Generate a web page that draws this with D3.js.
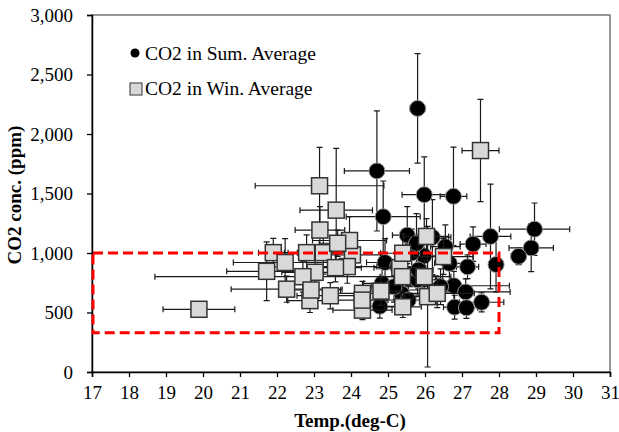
<!DOCTYPE html>
<html>
<head>
<meta charset="utf-8">
<script src="https://cdn.jsdelivr.net/npm/d3@7"></script>
<style>
  body { margin: 0; background: #fff; }
  text { font-family: "Liberation Serif", "Times New Roman", serif; }
</style>
</head>
<body>
<script>
// summer averages (temp, co2) and their error bars
var sumTemp    = [25.8, 24.7, 25.98, 26.77, 24.87, 28.96, 28.87, 28.53, 27.77, 27.3, 27.92, 27.15, 26.78, 27.1, 26.8, 27.12, 27.53, 26.66, 26.55, 26.2, 25.97, 25.52, 24.92, 24.78, 24.84, 25.37, 25.55, 25.8, 25.26, 25.16, 25.82, 26.3, 26.42, 25.64, 25.77];
var sumCO2     = [2215, 1690, 1490, 1476, 1305, 1200, 1043, 972, 1139, 1075, 903, 884, 725, 673, 545, 540, 586, 913, 1053, 1133, 976, 1150, 920, 552, 745, 658, 605, 775, 886, 717, 858, 689, 717, 1000, 1081];
var sumTempErr = [0.2, 0.88, 0.6, 0.36, 1.0, 0.95, 0.6, 0.2, 0.55, 0.35, 0.2, 0.3, 1.5, 1.2, 0.3, 0.3, 0.6, 0.4, 0.4, 0.5, 0.4, 0.4, 0.5, 0.4, 0.5, 0.7, 0.6, 0.5, 0.5, 0.6, 0.4, 0.8, 0.5, 0.4, 0.3];
var sumCO2Err  = [460, 505, 318, 413, 300, 220, 200, 70, 440, 145, 230, 100, 120, 110, 100, 90, 80, 150, 183, 315, 200, 240, 200, 100, 150, 150, 120, 130, 120, 130, 140, 120, 150, 200, 250];

// winter averages
var winTemp    = [27.5, 23.15, 23.6, 23.16, 21.9, 22.22, 21.72, 22.26, 19.89, 22.89, 23.03, 22.8, 23.25, 24.04, 23.96, 23.64, 22.7, 22.92, 23.44, 23.9, 23.58, 24.31, 24.31, 24.3, 24.81, 25.32, 25.4, 25.39, 25.4, 26.04, 25.98, 26.07, 26.33, 26.5];
var winCO2     = [1861, 1565, 1360, 1193, 1003, 920, 846, 696, 527, 600, 838, 1003, 1003, 984, 1105, 1082, 801, 689, 641, 886, 877, 661, 520, 604, 680, 877, 998, 801, 548, 1139, 801, 633, 661, 970];
var winTempErr = [0.5, 1.74, 0.98, 0.67, 0.4, 1.4, 1.08, 1.5, 0.97, 0.6, 0.9, 0.6, 0.7, 0.8, 1.0, 0.5, 4.0, 0.8, 0.9, 0.8, 0.7, 0.9, 0.8, 0.7, 0.6, 0.7, 0.6, 0.6, 0.5, 0.6, 0.5, 0.4, 1.0, 0.8];
var winCO2Err  = [430, 323, 520, 196, 120, 200, 247, 110, 60, 100, 150, 150, 180, 150, 200, 110, 130, 130, 110, 140, 120, 100, 80, 100, 120, 120, 160, 140, 90, 150, 140, 591, 120, 150];

// axis ticks
var xTicks = d3.range(17, 32, 1);
var yTicks = [0, 500, 1000, 1500, 2000, 2500, 3000];

// highlighted comfort zone
var zoneTemp = [17, 28];
var zoneCO2 = [330, 1000];

var width = 619, height = 432;
var plotLeft = 92, plotRight = 610, plotTop = 15, plotBottom = 372;
var fs = 19;

var svg = d3.select("body").append("svg")
    .attr("width", width)
    .attr("height", height);

var x = d3.scaleLinear().domain([17, 31]).range([plotLeft, plotRight]);
var y = d3.scaleLinear().domain([0, 3000]).range([plotBottom, plotTop]);

// plot frame
svg.append("rect")
    .attr("x", plotLeft).attr("y", plotTop)
    .attr("width", plotRight - plotLeft).attr("height", plotBottom - plotTop)
    .attr("fill", "none").attr("stroke", "#555").attr("stroke-width", 1.2);

var xAxis = svg.append("g")
    .attr("transform", "translate(0," + plotBottom + ")")
    .call(d3.axisBottom(x).tickValues(xTicks).tickSize(5).tickPadding(9));
var yAxis = svg.append("g")
    .attr("transform", "translate(" + plotLeft + ",0)")
    .call(d3.axisLeft(y).tickValues(yTicks).tickSize(5).tickPadding(14).tickFormat(d3.format(",")));

[xAxis, yAxis].forEach(function (a) {
    a.select(".domain").attr("stroke", "#000").attr("stroke-width", 1.5);
    a.selectAll(".tick line").attr("stroke", "#000").attr("stroke-width", 1.3);
    a.selectAll("text").attr("font-family", "Liberation Serif").attr("font-size", fs).attr("fill", "#000");
});

// make point objects
function makePoints(t, c, te, ce) {
    return t.map(function (d, i) { return {t: d, c: c[i], te: te[i], ce: ce[i]}; });
}
var summer = makePoints(sumTemp, sumCO2, sumTempErr, sumCO2Err);
var winter = makePoints(winTemp, winCO2, winTempErr, winCO2Err);

function errorBars(g, data) {
    var cap = 3;
    data.forEach(function (d) {
        var cx = x(d.t), cy = y(d.c);
        var x0 = x(d.t - d.te), x1 = x(d.t + d.te);
        var y0 = y(Math.max(0, d.c - d.ce)), y1 = y(d.c + d.ce);
        var p = "M" + x0 + "," + cy + "H" + x1 +
                "M" + x0 + "," + (cy - cap) + "V" + (cy + cap) +
                "M" + x1 + "," + (cy - cap) + "V" + (cy + cap) +
                "M" + cx + "," + y0 + "V" + y1 +
                "M" + (cx - cap) + "," + y0 + "H" + (cx + cap) +
                "M" + (cx - cap) + "," + y1 + "H" + (cx + cap);
        g.append("path").attr("d", p)
            .attr("fill", "none").attr("stroke", "#1a1a1a").attr("stroke-width", 1.2);
    });
}

// summer series
var gs = svg.append("g");
errorBars(gs, summer);
gs.selectAll("circle")
    .data(summer)
    .enter()
    .append("circle")
    .attr("cx", function (d) { return x(d.t); })
    .attr("cy", function (d) { return y(d.c); })
    .attr("r", 8)
    .attr("fill", "#000")
    .attr("stroke", "#999")
    .attr("stroke-width", 1);

// winter series
var gw = svg.append("g");
errorBars(gw, winter);
gw.selectAll("rect")
    .data(winter)
    .enter()
    .append("rect")
    .attr("x", function (d) { return x(d.t) - 8; })
    .attr("y", function (d) { return y(d.c) - 8; })
    .attr("width", 16)
    .attr("height", 16)
    .attr("fill", "#d9d9d9")
    .attr("stroke", "#333")
    .attr("stroke-width", 1.5);

// dashed red zone
svg.append("rect")
    .attr("x", x(zoneTemp[0]) + 1)
    .attr("y", y(zoneCO2[1]))
    .attr("width", x(zoneTemp[1]) - x(zoneTemp[0]) - 1)
    .attr("height", y(zoneCO2[0]) - y(zoneCO2[1]))
    .attr("fill", "none")
    .attr("stroke", "#ff0000")
    .attr("stroke-width", 3)
    .attr("stroke-dasharray", "10,5");

// legend
svg.append("circle").attr("cx", 135).attr("cy", 53).attr("r", 4.5).attr("fill", "#000");
svg.append("text").attr("x", 145).attr("y", 60).attr("font-size", fs + 0.5).text("CO2 in Sum. Average");
svg.append("rect").attr("x", 130).attr("y", 83).attr("width", 12).attr("height", 12)
    .attr("fill", "#d9d9d9").attr("stroke", "#333").attr("stroke-width", 1);
svg.append("text").attr("x", 145).attr("y", 95).attr("font-size", fs + 0.5).text("CO2 in Win. Average");

// axis titles
svg.append("text")
    .attr("x", 350).attr("y", 427)
    .attr("text-anchor", "middle")
    .attr("font-size", fs).attr("font-weight", "bold")
    .text("Temp.(deg-C)");
svg.append("text")
    .attr("transform", "translate(21," + 195 + ") rotate(-90)")
    .attr("text-anchor", "middle")
    .attr("font-size", fs).attr("font-weight", "bold")
    .text("CO2 conc. (ppm)");
</script>
</body>
</html>
